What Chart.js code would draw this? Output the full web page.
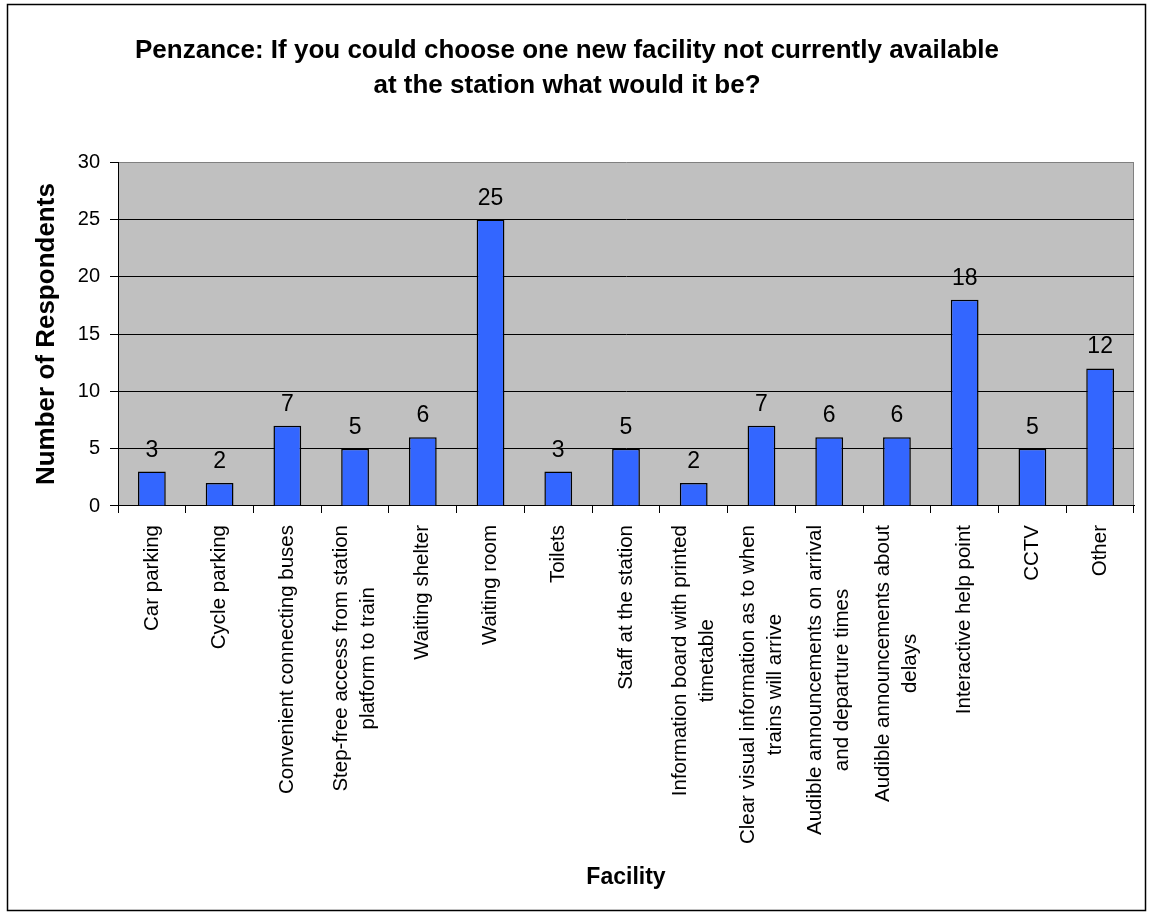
<!DOCTYPE html>
<html>
<head>
<meta charset="utf-8">
<title>Penzance station survey</title>
<script src="https://cdn.jsdelivr.net/npm/chart.js@4"></script>
<style>
    html, body { margin: 0; padding: 0; background: #fff; }
    #wrap { width: 1155px; height: 916px; }
</style>
</head>
<body>
<div id="wrap"><canvas id="facilityChart" width="1155" height="916"></canvas></div>
<script>
// Survey answers
const categories = [
    'Car parking',
    'Cycle parking',
    'Convenient connecting buses',
    ['Step-free access from station', 'platform to train'],
    'Waiting shelter',
    'Waiting room',
    'Toilets',
    'Staff at the station',
    ['Information board with printed', 'timetable'],
    ['Clear visual information as to when', 'trains will arrive'],
    ['Audible announcements on arrival', 'and departure times'],
    ['Audible announcements about', 'delays'],
    'Interactive help point',
    'CCTV',
    'Other'
];
const respondents = [3, 2, 7, 5, 6, 25, 3, 5, 2, 7, 6, 6, 18, 5, 12];
const yTickValues = [0, 5, 10, 15, 20, 25, 30];

const FONT = "'Liberation Sans', Arial, Helvetica, sans-serif";

document.addEventListener("DOMContentLoaded", function() {

    // Grey plot area, right edge and the outer frame
    const plotFrame = {
        id: 'plotFrame',
        beforeDraw(chart) {
            const ctx = chart.ctx;
            const a = chart.chartArea;
            ctx.save();
            ctx.fillStyle = '#fff';
            ctx.fillRect(0, 0, chart.width, chart.height);
            ctx.fillStyle = '#C0C0C0';
            ctx.fillRect(a.left, a.top, a.right - a.left, a.bottom - a.top);
            ctx.strokeStyle = '#808080';
            ctx.lineWidth = 1;
            ctx.beginPath();
            ctx.moveTo(Math.round(a.right) - 0.5, a.top);
            ctx.lineTo(Math.round(a.right) - 0.5, a.bottom);
            ctx.stroke();
            ctx.strokeStyle = '#000';
            ctx.lineWidth = 1.5;
            ctx.strokeRect(7.5, 4.5, 1138, 906);
            ctx.restore();
        }
    };

    // Value above each bar
    const valueLabels = {
        id: 'valueLabels',
        afterDatasetsDraw(chart) {
            const ctx = chart.ctx;
            const meta = chart.getDatasetMeta(0);
            ctx.save();
            ctx.font = '23px ' + FONT;
            ctx.fillStyle = '#000';
            ctx.textAlign = 'center';
            ctx.textBaseline = 'alphabetic';
            meta.data.forEach(function(bar, i) {
                ctx.fillText(String(respondents[i]), bar.x, bar.y - 15);
            });
            ctx.restore();
        }
    };

    // Rotated category names, lines centred on each other
    const facilityLabels = {
        id: 'facilityLabels',
        afterDraw(chart) {
            const ctx = chart.ctx;
            const xScale = chart.scales.x;
            const lineGap = 27;
            ctx.save();
            ctx.font = '20.5px ' + FONT;
            ctx.fillStyle = '#000';
            ctx.textAlign = 'center';
            ctx.textBaseline = 'middle';
            categories.forEach(function(label, i) {
                const lines = Array.isArray(label) ? label : [label];
                const widest = Math.max.apply(null, lines.map(function(l) { return ctx.measureText(l).width; }));
                const cx = xScale.getPixelForValue(i);
                const top = chart.chartArea.bottom + 19;
                ctx.save();
                ctx.translate(cx, top + widest / 2);
                ctx.rotate(-Math.PI / 2);
                lines.forEach(function(line, j) {
                    ctx.fillText(line, 0, (j - (lines.length - 1) / 2) * lineGap);
                });
                ctx.restore();
            });
            ctx.restore();
        }
    };

    const ctx = document.getElementById('facilityChart').getContext('2d');
    const facilityChart = new Chart(ctx, {
        type: 'bar',
        data: {
            labels: categories,
            datasets: [{
                label: 'Number of Respondents',
                data: respondents,
                backgroundColor: '#3366FF',
                borderColor: '#000',
                borderWidth: 1.5,
                barPercentage: 0.41,
                categoryPercentage: 1
            }]
        },
        options: {
            responsive: false,
            animation: false,
            layout: {
                padding: { left: 0, right: 21, top: 0, bottom: 0 }
            },
            plugins: {
                legend: { display: false },
                tooltip: { enabled: false },
                title: {
                    display: true,
                    text: [
                        'Penzance: If you could choose one new facility not currently available',
                        'at the station what would it be?'
                    ],
                    color: '#000',
                    font: { family: FONT, size: 26, weight: 'bold', lineHeight: 1.35 },
                    padding: { top: 33, bottom: 59 }
                }
            },
            scales: {
                x: {
                    afterFit: function(scale) { scale.height = 410; },
                    grid: {
                        drawOnChartArea: false,
                        drawTicks: true,
                        tickLength: 7,
                        tickColor: '#000',
                        offset: true
                    },
                    border: { color: '#000', width: 1 },
                    ticks: { display: false, autoSkip: false },
                    title: {
                        display: true,
                        text: 'Facility',
                        color: '#000',
                        font: { family: FONT, size: 23, weight: 'bold', lineHeight: 1.2 },
                        padding: { top: 0, bottom: 25 }
                    }
                },
                y: {
                    min: 0,
                    max: 30,
                    afterFit: function(scale) { scale.width = 118; },
                    afterBuildTicks: function(scale) {
                        scale.ticks = yTickValues.map(function(v) { return { value: v }; });
                    },
                    grid: {
                        color: function(c) { return c.tick && c.tick.value === 30 ? '#808080' : '#000'; },
                        tickColor: '#000',
                        tickLength: 8,
                        lineWidth: 1
                    },
                    border: { color: '#000', width: 1 },
                    ticks: {
                        color: '#000',
                        padding: 10,
                        font: { family: FONT, size: 20 }
                    },
                    title: {
                        display: true,
                        text: 'Number of Respondents',
                        color: '#000',
                        font: { family: FONT, size: 26, weight: 'bold', lineHeight: 1.2 },
                        padding: { top: 31, bottom: 0 }
                    }
                }
            }
        },
        plugins: [plotFrame, valueLabels, facilityLabels]
    });
});
</script>
</body>
</html>
